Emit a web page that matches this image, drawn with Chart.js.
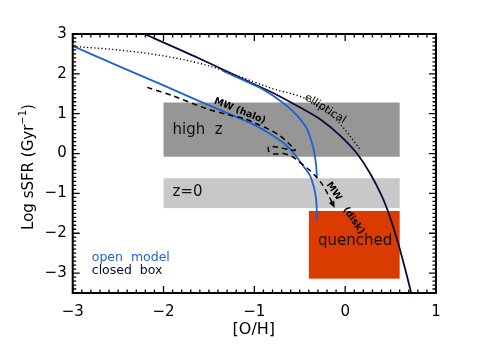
<!DOCTYPE html>
<html>
<head>
<meta charset="utf-8">
<script src="https://cdn.jsdelivr.net/npm/chart.js@4.4.1/dist/chart.umd.min.js"></script>
<style>
  html, body { margin: 0; padding: 0; background: #fff; }
  #wrap { width: 485px; height: 346px; }
</style>
</head>
<body>
<div id="wrap"><canvas id="chart" width="485" height="346"></canvas></div>
<script>
// Tracks in the [O/H] - log sSFR plane
const closedBoxOH   = [-2.3, -2.21, -1.6, -1.05, -0.75, -0.5, -0.275, -0.055, 0.13, 0.275, 0.40, 0.46, 0.53, 0.59, 0.655, 0.716, 0.73];
const closedBoxSSFR = [3.09, 3.0, 2.38, 1.79, 1.47, 1.16, 0.86, 0.45, 0.0, -0.5, -1.05, -1.38, -1.85, -2.3, -2.85, -3.4, -3.53];

const openUpperOH   = [-1.35, -1.1, -0.9, -0.7, -0.58, -0.48, -0.42, -0.37, -0.34, -0.32, -0.31];
const openUpperSSFR = [2.08, 1.82, 1.6, 1.3, 1.07, 0.82, 0.61, 0.3, 0.03, -0.3, -0.6];

const openLowerOH   = [-3.0, -2.5, -2.0, -1.6, -1.2, -1.0, -0.85, -0.7, -0.6, -0.53, -0.45, -0.385, -0.35, -0.33, -0.315, -0.31];
const openLowerSSFR = [2.7, 2.2, 1.71, 1.31, 0.92, 0.72, 0.53, 0.3, 0.1, -0.1, -0.35, -0.56, -0.8, -1.0, -1.3, -1.65];

const ellipticalOH   = [-3.0, -2.5, -2.0, -1.5, -1.08, -0.8, -0.46, -0.3, -0.1, 0.05, 0.165];
const ellipticalSSFR = [2.69, 2.6, 2.45, 2.2, 1.86, 1.63, 1.4, 1.2, 0.85, 0.45, 0.1];

const milkyWayOH   = [-2.18, -1.9, -1.52, -1.3, -1.1, -0.97, -0.86, -0.72, -0.62, -0.55, -0.62, -0.74, -0.84, -0.84, -0.78, -0.68, -0.58, -0.5, -0.4, -0.33, -0.26, -0.19, -0.13];
const milkyWaySSFR = [1.66, 1.45, 1.12, 0.98, 0.87, 0.74, 0.63, 0.45, 0.25, 0.08, 0.1, 0.16, 0.17, 0.05, -0.01, 0.0, -0.08, -0.22, -0.4, -0.56, -0.75, -1.02, -1.3];

// Shaded regions: [x from, x to], [y from, y to]
const regionNames = ['high  z', 'z=0', 'quenched'];
const regionOH    = [[-2.0, 0.6], [-2.0, 0.6], [-0.4, 0.6]];
const regionSSFR  = [[-0.08, 1.28], [-1.37, -0.62], [-3.14, -1.44]];
const regionColor = ['#969696', '#c8c8c8', '#d93b00'];

const xTicks = [-3, -2, -1, 0, 1];
const yTicks = [-3, -2, -1, 0, 1, 2, 3];

const blue = '#1c64d6';
const navy = '#0b0b3b';

const toPoints = (xs, ys) => xs.map((v, i) => ({ x: v, y: ys[i] }));
const minus = v => String(v).replace('-', '\u2212');

// Boxes under the curves
const regionsPlugin = {
    id: 'regions',
    beforeDatasetsDraw(chart) {
        const { ctx, scales: { x, y } } = chart;
        ctx.save();
        regionOH.forEach((r, i) => {
            const x0 = x.getPixelForValue(r[0]);
            const x1 = x.getPixelForValue(r[1]);
            const y0 = y.getPixelForValue(regionSSFR[i][1]);
            const y1 = y.getPixelForValue(regionSSFR[i][0]);
            ctx.fillStyle = regionColor[i];
            ctx.fillRect(x0, y0, x1 - x0, y1 - y0);
        });
        ctx.restore();
    }
};

// Text, arrow, frame and inward ticks
const decorPlugin = {
    id: 'decor',
    afterDraw(chart) {
        const { ctx, chartArea: a, scales: { x, y } } = chart;
        ctx.save();

        const text = (str, xv, yv, font, color, angle = 0, align = 'left') => {
            ctx.save();
            ctx.translate(x.getPixelForValue(xv), y.getPixelForValue(yv));
            ctx.rotate(angle * Math.PI / 180);
            ctx.font = font;
            ctx.fillStyle = color;
            ctx.textAlign = align;
            ctx.textBaseline = 'middle';
            ctx.fillText(str, 0, 0);
            ctx.restore();
        };

        // region labels
        text(regionNames[0], -1.9, 0.6, '15px "DejaVu Sans"', '#111');
        text(regionNames[1], -1.9, -0.97, '15px "DejaVu Sans"', '#111');
        text(regionNames[2], -0.3, -2.2, '15px "DejaVu Sans"', '#111');

        // track labels
        text('MW (halo)', -1.16, 1.07, 'bold 9.5px "DejaVu Sans"', '#000', 22, 'center');
        text('elliptical', -0.22, 1.12, '11px "DejaVu Sans"', '#000', 32, 'center');
        text('MW   (disk)', 0.0, -1.37, 'bold 9.5px "DejaVu Sans"', '#000', 56, 'center');

        // legend
        text('open  model', -2.79, -2.62, '12.5px "DejaVu Sans"', blue);
        text('closed  box', -2.79, -2.94, '12.5px "DejaVu Sans"', navy);

        // arrow head at the end of the MW track
        const n = milkyWayOH.length;
        const ex = x.getPixelForValue(milkyWayOH[n - 1]);
        const ey = y.getPixelForValue(milkyWaySSFR[n - 1]);
        const px = x.getPixelForValue(milkyWayOH[n - 2]);
        const py = y.getPixelForValue(milkyWaySSFR[n - 2]);
        const ang = Math.atan2(ey - py, ex - px);
        ctx.fillStyle = '#000';
        ctx.beginPath();
        ctx.moveTo(ex + 3 * Math.cos(ang), ey + 3 * Math.sin(ang));
        ctx.lineTo(ex - 4 * Math.cos(ang) + 3 * Math.sin(ang), ey - 4 * Math.sin(ang) - 3 * Math.cos(ang));
        ctx.lineTo(ex - 4 * Math.cos(ang) - 3 * Math.sin(ang), ey - 4 * Math.sin(ang) + 3 * Math.cos(ang));
        ctx.closePath();
        ctx.fill();

        // inward ticks on all four sides, minor every 0.1
        ctx.strokeStyle = '#000';
        ctx.lineWidth = 1.3;
        ctx.beginPath();
        for (let i = -30; i <= 10; i++) {
            const tx = x.getPixelForValue(i / 10);
            const len = i % 10 === 0 ? 7 : 3.5;
            ctx.moveTo(tx, a.bottom); ctx.lineTo(tx, a.bottom - len);
            ctx.moveTo(tx, a.top); ctx.lineTo(tx, a.top + len);
        }
        for (let i = -35; i <= 30; i++) {
            const ty = y.getPixelForValue(i / 10);
            const len = i % 10 === 0 ? 7 : 3.5;
            ctx.moveTo(a.left, ty); ctx.lineTo(a.left + len, ty);
            ctx.moveTo(a.right, ty); ctx.lineTo(a.right - len, ty);
        }
        ctx.stroke();

        ctx.lineWidth = 2;
        ctx.strokeRect(a.left, a.top, a.right - a.left, a.bottom - a.top);

        // axis titles
        ctx.fillStyle = '#000';
        ctx.font = '16px "DejaVu Sans"';
        ctx.textAlign = 'center';
        ctx.textBaseline = 'middle';
        ctx.fillText('[O/H]', (a.left + a.right) / 2 - 0.5, 330);

        ctx.save();
        ctx.translate(29, 167);
        ctx.rotate(-Math.PI / 2);
        ctx.textAlign = 'left';
        const main = 'Log sSFR (Gyr';
        const sup = '\u22121';
        ctx.font = '15px "DejaVu Sans"';
        const w1 = ctx.measureText(main).width;
        const w3 = ctx.measureText(')').width;
        ctx.font = '10px "DejaVu Sans"';
        const w2 = ctx.measureText(sup).width;
        let sx = -(w1 + w2 + w3) / 2;
        ctx.font = '15px "DejaVu Sans"';
        ctx.fillText(main, sx, 0);
        sx += w1;
        ctx.font = '10px "DejaVu Sans"';
        ctx.fillText(sup, sx, -6);
        sx += w2;
        ctx.font = '15px "DejaVu Sans"';
        ctx.fillText(')', sx, 0);
        ctx.restore();

        ctx.restore();
    }
};

const line = (xs, ys, color, width, dash, smooth) => ({
    data: toPoints(xs, ys),
    showLine: true,
    borderColor: color,
    borderWidth: width,
    borderDash: dash || [],
    pointRadius: 0,
    tension: 0.3,
    cubicInterpolationMode: smooth ? 'monotone' : 'default',
    fill: false
});

new Chart(document.getElementById('chart'), {
    type: 'scatter',
    data: {
        datasets: [
            line(ellipticalOH, ellipticalSSFR, '#000', 1.4, [1.2, 2.4], true),
            line(milkyWayOH, milkyWaySSFR, '#000', 1.5, [5.5, 4], false),
            line(openLowerOH, openLowerSSFR, blue, 1.8, null, true),
            line(openUpperOH, openUpperSSFR, blue, 1.8, null, true),
            line(closedBoxOH, closedBoxSSFR, navy, 1.8, null, true)
        ]
    },
    options: {
        responsive: false,
        animation: false,
        layout: { padding: { left: 0, right: 49, top: 34, bottom: 0 } },
        plugins: { legend: { display: false }, tooltip: { enabled: false } },
        scales: {
            x: {
                type: 'linear',
                min: -3, max: 1,
                afterFit: s => { s.height = 53; },
                afterBuildTicks: s => { s.ticks = xTicks.map(v => ({ value: v })); },
                grid: { display: false, drawTicks: false },
                border: { display: false },
                ticks: {
                    padding: 10,
                    color: '#000',
                    font: { family: '"DejaVu Sans"', size: 15 },
                    callback: v => minus(v)
                }
            },
            y: {
                type: 'linear',
                min: -3.5, max: 3,
                afterFit: s => { s.width = 72.7; },
                afterBuildTicks: s => { s.ticks = yTicks.map(v => ({ value: v })); },
                grid: { display: false, drawTicks: false },
                border: { display: false },
                ticks: {
                    padding: 6,
                    color: '#000',
                    font: { family: '"DejaVu Sans"', size: 15 },
                    callback: v => minus(v)
                }
            }
        }
    },
    plugins: [regionsPlugin, decorPlugin]
});
</script>
</body>
</html>
